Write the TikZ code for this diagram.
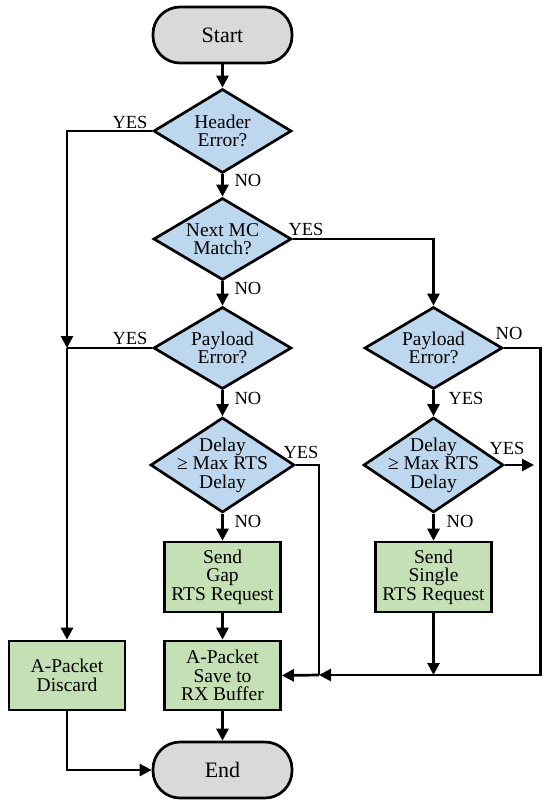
\documentclass[tikz,border=0pt]{standalone}
\usepackage{fontspec}
\setmainfont{Liberation Serif}
\newfontfamily\dfont{Liberation Serif}
\usetikzlibrary{arrows.meta,shapes.geometric}
\definecolor{termfill}{HTML}{D9D9D9}
\definecolor{decfill}{HTML}{BDD7EE}
\definecolor{procfill}{HTML}{C5E0B4}
\begin{document}
\begin{tikzpicture}[x=1pt,y=-1pt,
  line width=2.7pt,
  arr/.style={-{Triangle[length=12pt,width=12pt]}},
  term/.style={draw, fill=termfill, rounded corners=27pt, minimum width=139pt, minimum height=56pt, font=\dfont\fontsize{22}{22}\selectfont, inner sep=0pt},
  dec/.style={draw, fill=decfill, diamond, minimum width=138pt, minimum height=82pt, inner sep=0pt},
  decbig/.style={dec, minimum width=144pt, minimum height=95pt},
  dectext/.style={align=center, font=\dfont\fontsize{19.5}{18.5}\selectfont, inner sep=0pt},
  proc/.style={draw, fill=procfill, minimum width=116pt, minimum height=70pt, align=center, font=\dfont\fontsize{19.5}{18.5}\selectfont, inner sep=0pt},
  lbl/.style={font=\dfont\fontsize{18.5}{18}\selectfont, inner sep=0pt}
]
\useasboundingbox (0,0) rectangle (550,806);

% nodes
\node[term] (start) at (222.5,35) {Start};
\node[dec, minimum height=84pt, label={[dectext]center:Header\\Error?}] (h) at (222.5,131) {};
\node[dec, label={[dectext]center:Next MC\\Match?}] (m) at (222.5,239) {};
\node[dec, label={[dectext]center:Payload\\Error?}] (p1) at (222.5,348) {};
\node[decbig, label={[dectext]center:Delay\\≥ Max RTS\\Delay}] (d1) at (222.5,465) {};
\node[proc] (gap) at (222.5,577) {Send\\Gap\\RTS Request};
\node[proc, minimum height=69pt] (save) at (222.5,675.5) {A-Packet\\Save to\\RX Buffer};
\node[proc, minimum height=69pt] (discard) at (67,675.5) {A-Packet\\Discard};
\node[term] (end) at (222.5,770) {End};
\node[dec, label={[dectext]center:Payload\\Error?}] (p2) at (433.5,348) {};
\node[decbig, minimum width=140pt, label={[dectext]center:Delay\\≥ Max RTS\\Delay}] (d2) at (433.5,465) {};
\node[proc] (single) at (433.5,577) {Send\\Single\\RTS Request};

% junction coordinates
\coordinate (jL) at (67,348);
\coordinate (jM) at (319,675);
\coordinate (cR) at (540.5,675);
\coordinate (jR) at (433.5,675);
\coordinate (d2out) at (534,465);

% connectors
\draw[arr] (start) -- (h);
\draw[arr] (h.west) -| (jL);
\draw (p1.west) -- (jL);
\draw[arr] (jL) -- (discard.north);
\draw[arr] (h) -- (m);
\draw[arr] (m.east) -| (p2.north);
\draw[arr] (m) -- (p1);
\draw[arr] (p1) -- (d1);
\draw[arr] (d1) -- (gap);
\draw[arr] (gap) -- (save);
\draw (d1.east) -| (jM);
\draw[arr] (p2.east) -| (cR) -- (jM);
\draw[arr] (jM) -- (save.east);
\draw[arr] (p2) -- (d2);
\draw[arr] (d2.east) -- (d2out);
\draw[arr] (d2) -- (single);
\draw[arr] (single) -- (jR);
\draw[arr] (save) -- (end);
\draw[arr] (discard.south) |- (end.west);

% labels
\node[lbl] (l1) at (130,122) {YES};
\node[lbl] (l2) at (248,180) {NO};
\node[lbl] (l3) at (306,229) {YES};
\node[lbl] (l4) at (248,288) {NO};
\node[lbl] (l5) at (130,338) {YES};
\node[lbl] (l6) at (248,398) {NO};
\node[lbl] (l7) at (301,452) {YES};
\node[lbl] (l8) at (248,521) {NO};
\node[lbl] (l9) at (509,333) {NO};
\node[lbl] (l10) at (466,398) {YES};
\node[lbl] (l11) at (507,448) {YES};
\node[lbl] (l12) at (460,521) {NO};
\end{tikzpicture}
\end{document}
